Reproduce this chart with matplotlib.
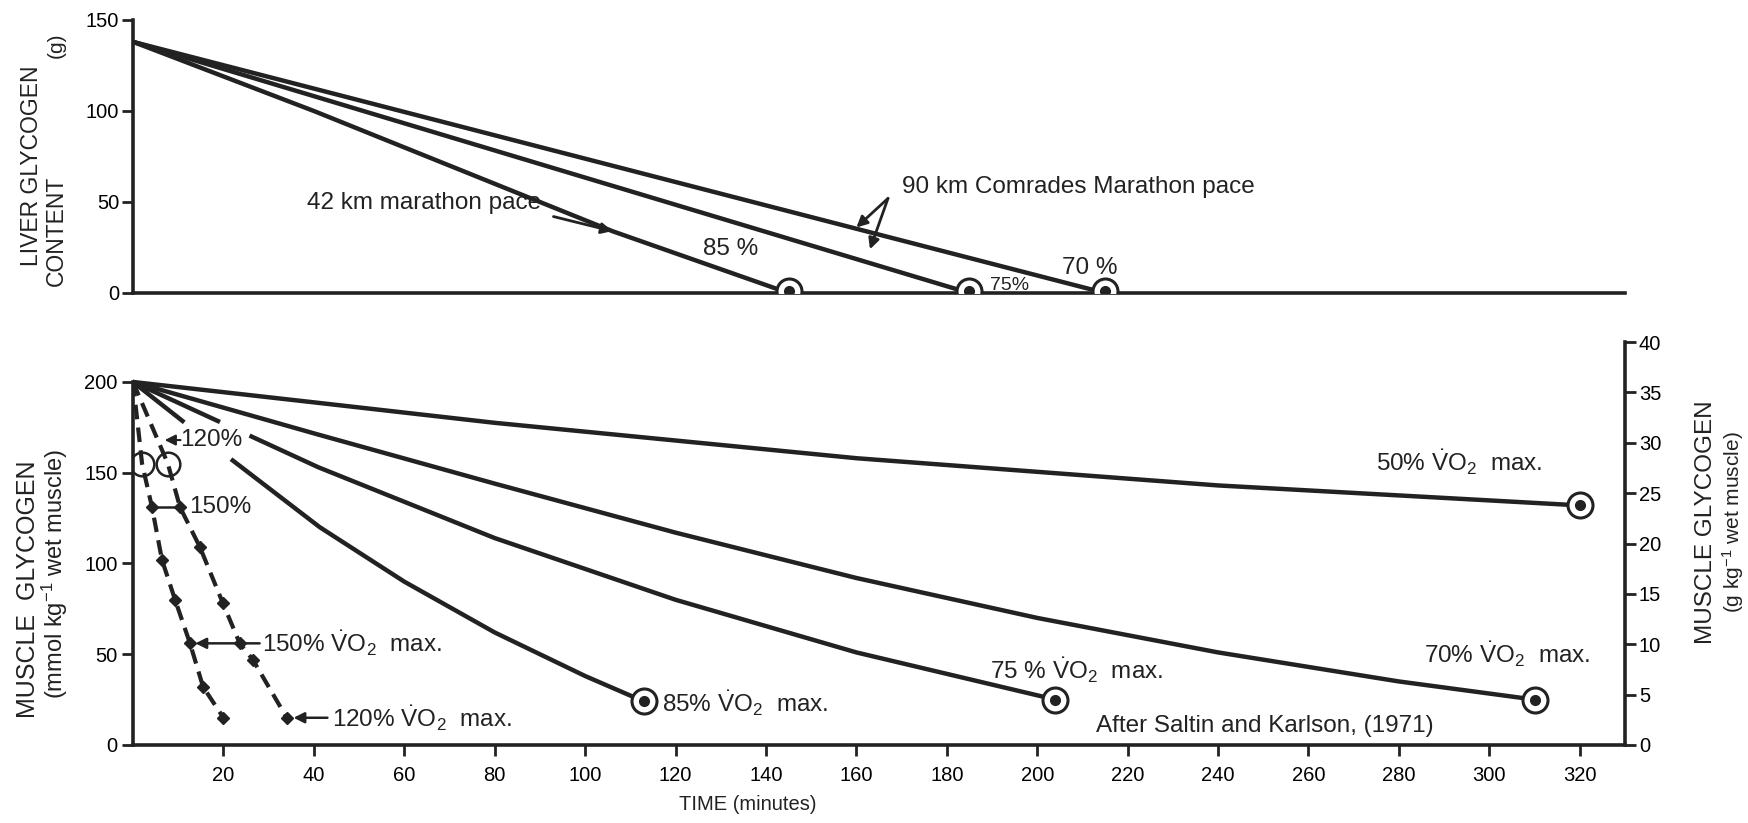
import numpy as np
import matplotlib
matplotlib.use("Agg")
import matplotlib.pyplot as plt

plt.rcParams['font.family'] = ['Liberation Sans', 'DejaVu Sans']
plt.rcParams['mathtext.fontset'] = 'custom'
plt.rcParams['mathtext.rm'] = 'Liberation Sans'
plt.rcParams['mathtext.it'] = 'Liberation Sans'

INK = '#222222'
FS = 17.5   # annotation text size

# ---- liver glycogen (g) vs time (min) ----
liver_85_t = [0, 40, 106, 145]
liver_85_g = [138, 100, 34, 0]
liver_75_t = [0, 185]
liver_75_g = [138, 0]
liver_70_t = [0, 215]
liver_70_g = [138, 0]

# ---- muscle glycogen (mmol/kg wet muscle) vs time (min) ----
m50_t = [0, 41, 80, 160, 240, 320]
m50_v = [200, 188.5, 177.5, 158, 143, 132]
m70_t = [0, 41, 80, 120, 160, 200, 240, 280, 310]
m70_v = [200, 171, 144, 117, 92, 70, 51, 35, 25]
m75_t = [0, 41, 80, 120, 160, 204]
m75_v = [200, 153, 114, 80, 51, 25]
m85_t = [0, 21.4, 41.3, 60, 80, 100, 113]
m85_v = [200, 158, 120, 90, 62, 38, 24]
m120_t = [0, 7.7, 10.4, 14.8, 19.9, 23.6, 26.5, 34]
m120_v = [200, 155, 131, 109, 78, 56, 47, 15]
m150_t = [0, 2, 4.2, 6.4, 9.3, 12.6, 15.5, 20]
m150_v = [200, 155, 131, 102, 80, 56, 32, 15]

# breaks in the printed lines under the "120%" label (time ranges, min)
m85_gap = (12, 21)
m75_gap = (20, 25)

x_ticks = list(range(20, 321, 20))
left_ticks = [0, 50, 100, 150, 200]
right_ticks = list(range(0, 41, 5))
mmol_per_g = 5.55   # left/right scale ratio of the lower panel

fig = plt.figure(figsize=(17.48, 8.23), dpi=100)
ax1 = fig.add_axes([0.0761, 0.644, 0.8535, 0.3317])
ax2 = fig.add_axes([0.0761, 0.0948, 0.8535, 0.4962])


def endpoint(ax, t, v):
    ax.plot(t, v, 'o', ms=18, mfc='white', mec=INK, mew=2.2, zorder=5)
    ax.plot(t, v, 'o', ms=7, color=INK, zorder=6)


def arrow(ax, tip, tail, lw=2):
    ax.annotate('', xy=tip, xytext=tail,
                arrowprops=dict(arrowstyle='-|>', color=INK, lw=lw, shrinkA=0, shrinkB=0,
                                mutation_scale=16))


def blank(ax, t, v, gap):
    tt = np.linspace(gap[0], gap[1], 20)
    ax.plot(tt, np.interp(tt, t, v), color='white', lw=5.5, zorder=3)


# top panel
for t, g in [(liver_85_t, liver_85_g), (liver_75_t, liver_75_g), (liver_70_t, liver_70_g)]:
    ax1.plot(t, g, color=INK, lw=3.2, solid_capstyle='round')
    endpoint(ax1, t[-1], g[-1] + 1)

ax1.set_xlim(0, 330)
ax1.set_ylim(0, 150)
for s in ['top', 'right']:
    ax1.spines[s].set_visible(False)
for s in ['left', 'bottom']:
    ax1.spines[s].set_linewidth(2.6)
    ax1.spines[s].set_color(INK)
ax1.set_xticks([])
ax1.set_yticks([0, 50, 100, 150])
ax1.tick_params(axis='y', length=8, width=2, color=INK, labelsize=14.5, pad=2)

ax1.text(-22.5, 70, 'LIVER GLYCOGEN', rotation=90, ha='center', va='center', fontsize=16.5, color=INK)
ax1.text(-17, 34, 'CONTENT', rotation=90, ha='center', va='center', fontsize=16.5, color=INK)
ax1.text(-17, 136, '(g)', rotation=90, ha='center', va='center', fontsize=15, color=INK)

ax1.text(38.5, 49.5, '42 km marathon pace', fontsize=FS, va='center', color=INK)
arrow(ax1, (106, 34), (93, 42))
ax1.text(170, 58, '90 km Comrades Marathon pace', fontsize=FS, va='center', color=INK)
arrow(ax1, (160, 36), (167, 52))
arrow(ax1, (163, 24), (167, 52))
ax1.text(126, 24, '85 %', fontsize=FS, va='center', color=INK)
ax1.text(189.5, 4, '75%', fontsize=14, va='center', color=INK)
ax1.text(205.5, 14, '70 %', fontsize=FS, va='center', color=INK)

# bottom panel
for t, v in [(m50_t, m50_v), (m70_t, m70_v), (m75_t, m75_v), (m85_t, m85_v)]:
    ax2.plot(t, v, color=INK, lw=3.2, solid_capstyle='round')
    endpoint(ax2, t[-1], v[-1])
blank(ax2, m85_t, m85_v, m85_gap)
blank(ax2, m75_t, m75_v, m75_gap)

for t, v in [(m120_t, m120_v), (m150_t, m150_v)]:
    ax2.plot(t, v, color=INK, lw=3, ls=(0, (3.5, 2)))
    ax2.plot(t[2:], v[2:], 'D', ms=6, color=INK)
    ax2.plot(t[1], v[1], 'o', ms=17, mfc='none', mec=INK, mew=1.8)

ax2.set_xlim(0, 330)
ax2.set_ylim(0, 225)
ax2.spines['top'].set_visible(False)
ax2.spines['right'].set_visible(False)
for s in ['left', 'bottom']:
    ax2.spines[s].set_linewidth(2.6)
    ax2.spines[s].set_color(INK)
ax2.spines['left'].set_bounds(0, 200)
ax2.set_xticks(x_ticks)
ax2.set_yticks(left_ticks)
ax2.tick_params(axis='both', length=8, width=2, color=INK, labelsize=14.5, pad=3)
ax2.tick_params(axis='x', pad=7)
ax2.text(136, -33, 'TIME (minutes)', fontsize=14.5, ha='center', va='center', color=INK)

axr = ax2.twinx()
axr.set_ylim(0, 225 / mmol_per_g)
axr.set_yticks(right_ticks)
for s in ['top', 'left', 'bottom']:
    axr.spines[s].set_visible(False)
axr.spines['right'].set_linewidth(2.6)
axr.spines['right'].set_color(INK)
axr.spines['right'].set_bounds(0, 40)
axr.tick_params(axis='y', length=8, width=2, color=INK, labelsize=14.5, pad=2)

ax2.text(-23.2, 86, 'MUSCLE  GLYCOGEN', rotation=90, ha='center', va='center', fontsize=18, color=INK)
ax2.text(-17.3, 94, '(mmol kg$^{-1}$ wet muscle)', rotation=90, ha='center', va='center', fontsize=17, color=INK)
ax2.text(348, 123, 'MUSCLE GLYCOGEN', rotation=90, ha='center', va='center', fontsize=17.5, color=INK)
ax2.text(354, 123, '(g kg$^{-1}$ wet muscle)', rotation=90, ha='center', va='center', fontsize=15, color=INK)

vo2 = r'$\dot{\mathrm{V}}\mathrm{O}_2$'
ax2.text(275, 156, '50% ' + vo2 + '  max.', fontsize=FS, va='center', color=INK)
ax2.text(285.5, 50, '70% ' + vo2 + '  max.', fontsize=FS, va='center', color=INK)
ax2.text(189.5, 41, '75 % ' + vo2 + '  max.', fontsize=FS, va='center', color=INK)
ax2.text(117, 23, '85% ' + vo2 + '  max.', fontsize=FS, va='center', color=INK)
ax2.text(44, 15, '120% ' + vo2 + '  max.', fontsize=FS, va='center', color=INK)
arrow(ax2, (35.5, 15), (43, 15), lw=1.8)
ax2.text(28.5, 56, '150% ' + vo2 + '  max.', fontsize=FS, va='center', color=INK)
arrow(ax2, (13.8, 56), (28, 56), lw=1.8)
ax2.text(10.5, 168, '120%', fontsize=FS, va='center', color=INK)
arrow(ax2, (7, 168), (10.5, 168), lw=1.5)
ax2.plot([4.2, 10.4], [131, 131], color=INK, lw=1.8)
ax2.text(12.5, 131, '150%', fontsize=FS, va='center', color=INK)
ax2.text(213, 10.5, 'After Saltin and Karlson, (1971)', fontsize=FS, va='center', color=INK)

fig.savefig('out.png', dpi=100)
